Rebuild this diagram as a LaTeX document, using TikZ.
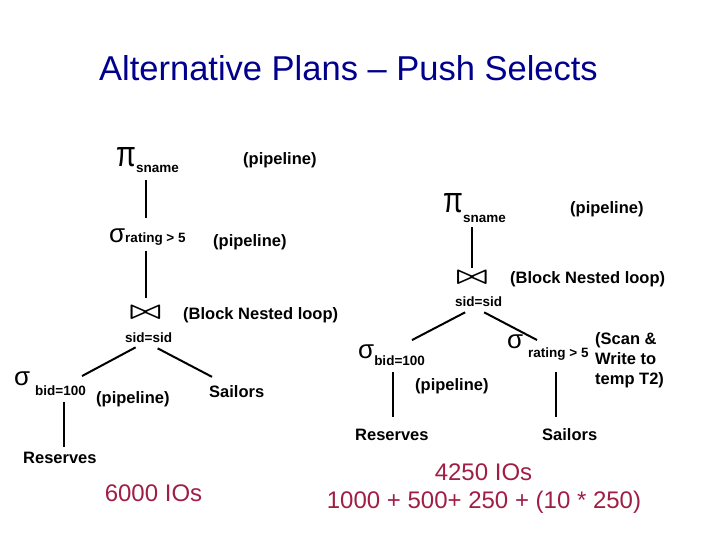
\documentclass[tikz,border=0pt]{standalone}
\usepackage{fontspec}
\usepackage{graphicx}
\usetikzlibrary{calc}
\setmainfont{Liberation Sans}
\newfontfamily\greekfont{Liberation Sans}
\definecolor{titleblue}{RGB}{0,0,140}
\definecolor{costred}{RGB}{160,30,70}
\newcommand{\opPi}{\scalebox{0.8}[1]{\greekfont\fontsize{36}{36}\selectfont π}}
\newcommand{\opSigma}{{\greekfont\fontsize{26}{26}\selectfont σ}}
\newcommand{\opJoin}{\scalebox{3.3}[2.5]{\boldmath$\bowtie$}}
\newcommand{\subtxt}[1]{{\bfseries\fontsize{13.5}{16}\selectfont #1}}
\tikzset{
  plan/.style={font=\bfseries\fontsize{16.5}{20}\selectfont, inner sep=0pt, anchor=base west},
  cond/.style={font=\bfseries\fontsize{13.5}{16}\selectfont, inner sep=0pt, anchor=base west},
  op/.style={inner sep=0pt, anchor=base west},
  cost/.style={font=\fontsize{24}{28}\selectfont, text=costred, inner sep=0pt, anchor=base},
  link/.style={line width=2pt}
}
\begin{document}
\begin{tikzpicture}[x=1pt,y=-1pt]
    \useasboundingbox (0,0) rectangle (720,540);
    % Title
    \node[font=\fontsize{34.5}{40}\selectfont, text=titleblue, inner sep=0pt, anchor=base] (title) at (348.5,81) {Alternative Plans – Push Selects};

    % Left plan
    \node[op] (pi1) at (116,167) {\opPi\raisebox{-6pt}{\subtxt{sname}}};
    \node[plan] (pipeA) at (243,164.5) {(pipeline)};
    \node[op] (sig1) at (109,242) {\opSigma\raisebox{-1pt}{\subtxt{rating > 5}}};
    \node[plan] (pipeB) at (213,247) {(pipeline)};
    \node[inner sep=0pt] (join1) at (145.5,313) {\opJoin};
    \node[plan] (bnl1) at (183,319) {(Block Nested loop)};
    \node[cond] (cond1) at (125,342) {sid=sid};
    \node[op] (sig2sym) at (14,385) {\opSigma};
    \node[cond] (sig2) at (35,395) {bid=100};
    \node[plan] (pipeC) at (96,403) {(pipeline)};
    \node[plan] (sail1) at (209,397) {Sailors};
    \node[plan] (res1) at (23,463) {Reserves};
    \node[cost] (cost1) at (153.5,501) {6000 IOs};

    \draw[link] ($(pi1.south -| join1)+(0,7)$) -- ($(sig1.north -| join1)+(0,-10)$);
    \draw[link] ($(sig1.south -| join1)+(0,5)$) -- ($(join1.center)+(0,-15)$);
    \draw[link] ($(cond1.south)+(-13,5)$) -- ($(sig2.north east)+(-4,-9)$);
    \draw[link] ($(cond1.south)+(9,6)$) -- ($(sail1.north west)+(3,-8)$);
    \draw[link] ($(sig2.south)+(3,7)$) -- ($(sig2.south |- res1.north)+(3,-4)$);

    % Right plan
    \node[op] (pi2) at (443,212) {\opPi\raisebox{-10pt}{\subtxt{sname}}};
    \node[plan] (pipeD) at (570,213.5) {(pipeline)};
    \node[inner sep=0pt] (join2) at (472,277.5) {\opJoin};
    \node[plan] (bnl2) at (510,283.5) {(Block Nested loop)};
    \node[cond] (cond2) at (455,306) {sid=sid};
    \node[op] (sig3) at (358,358) {\opSigma\raisebox{-7pt}{\subtxt{bid=100}}};
    \node[plan] (pipeE) at (415,390) {(pipeline)};
    \node[plan] (res2) at (355,440) {Reserves};
    \node[op] (sig4sym) at (507,348) {\opSigma};
    \node[cond] (sig4) at (528,357) {rating > 5};
    \node[plan, anchor=north west, align=left] (scan) at (595,332) {(Scan \&\\Write to\\temp T2)};
    \node[plan] (sail2) at (542,440) {Sailors};
    \node[cost] (cost2) at (483.5,480) {4250 IOs};
    \node[cost] (cost3) at (484,508) {1000 + 500+ 250 + (10 * 250)};

    \draw[link] ($(pi2.south -| join2)+(0,5)$) -- ($(join2.center)+(0,-9.5)$);
    \draw[link] ($(cond2.south)+(-13.5,6)$) -- ($(sig3.north west)+(54,-4)$);
    \draw[link] ($(cond2.south)+(5.5,6)$) -- ($(sig4.north west)+(9,-7)$);
    \draw[link] ($(sig3.south)+(1,7)$) -- ($(sig3.south |- res2.north)+(1,-11)$);
    \draw[link] ($(sig4.south)+(-2,12)$) -- ($(sig4.south |- sail2.north)+(-2,-11)$);
\end{tikzpicture}
\end{document}
